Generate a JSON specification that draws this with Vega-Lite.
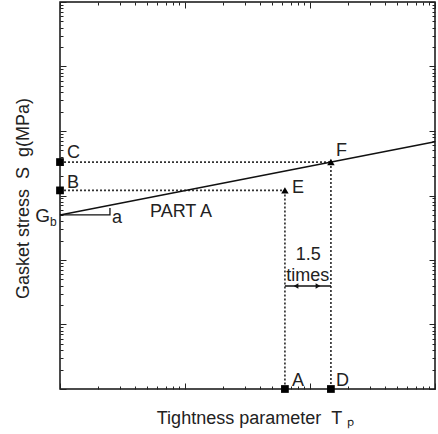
{
  "$schema": "https://vega.github.io/schema/vega-lite/v6.json",
  "width": 375,
  "height": 387,
  "autosize": {"type": "none"},
  "padding": {"left": 60, "top": 2, "right": 3, "bottom": 45},
  "background": "white",
  "datasets": {
    "guides": [
      {"seg": "B-E", "tp": 1, "sg": 1200},
      {"seg": "B-E", "tp": 63, "sg": 1200},
      {"seg": "E-A", "tp": 63, "sg": 1200},
      {"seg": "E-A", "tp": 63, "sg": 1},
      {"seg": "C-F", "tp": 1, "sg": 3300},
      {"seg": "C-F", "tp": 147, "sg": 3300},
      {"seg": "F-D", "tp": 147, "sg": 3300},
      {"seg": "F-D", "tp": 147, "sg": 1}
    ],
    "partA": [
      {"tp": 1, "sg": 500},
      {"tp": 1000, "sg": 6800}
    ],
    "slope": [
      {"step": 1, "tp": 1, "sg": 500},
      {"step": 2, "tp": 2.51, "sg": 500},
      {"step": 3, "tp": 2.51, "sg": 640}
    ],
    "squares": [
      {"point": "C", "tp": 1, "sg": 3300},
      {"point": "B", "tp": 1, "sg": 1200},
      {"point": "A", "tp": 63, "sg": 1},
      {"point": "D", "tp": 147, "sg": 1}
    ],
    "triangles": [
      {"point": "E", "tp": 63, "sg": 1200},
      {"point": "F", "tp": 147, "sg": 3300}
    ],
    "span": [
      {"from": 63, "to": 147, "sg": 39.5}
    ],
    "heads": [
      {"side": "left", "tp": 77.3, "sg": 39.5},
      {"side": "right", "tp": 115.9, "sg": 39.5}
    ],
    "labels": [
      {"text": "C", "tp": 1.14, "sg": 3814},
      {"text": "B", "tp": 1.14, "sg": 1307},
      {"text": "a", "tp": 2.61, "sg": 375},
      {"text": "PART A", "tp": 5.25, "sg": 464},
      {"text": "E", "tp": 71.8, "sg": 1094},
      {"text": "F", "tp": 161.4, "sg": 4096},
      {"text": "A", "tp": 71.8, "sg": 1.11},
      {"text": "D", "tp": 161.4, "sg": 1.11}
    ],
    "ratio": [
      {"text": "1.5", "tp": 97, "sg": 100},
      {"text": "times", "tp": 96, "sg": 47.2}
    ]
  },
  "layer": [
    {
      "data": {"name": "guides"},
      "mark": {"type": "line", "color": "#333", "strokeWidth": 1.7, "strokeDash": [2, 2]},
      "encoding": {
        "x": {
          "field": "tp", "type": "quantitative",
          "scale": {"type": "log", "domain": [1, 1000], "nice": false},
          "axis": {
            "orient": "bottom",
            "values": [1,2,3,4,5,6,7,8,9,10,20,30,40,50,60,70,80,90,100,200,300,400,500,600,700,800,900,1000],
            "tickSize": {"condition": {"test": "abs(log(datum.value)/LN10 - round(log(datum.value)/LN10)) < 0.001", "value": -6}, "value": -3},
            "title": "Tightness parameter\u00a0\u00a0T\u00a0ₚ",
            "titleFont": "Liberation Sans",
            "titleFontSize": 18,
            "titleFontWeight": "normal",
            "titleColor": "#222",
            "titleBaseline": "alphabetic",
            "titleX": 195,
            "titleY": 34
          }
        },
        "y": {
          "field": "sg", "type": "quantitative",
          "scale": {"type": "log", "domain": [1, 1000000], "nice": false},
          "axis": {
            "orient": "left",
            "values": [1,2,3,4,5,6,7,8,9,10,20,30,40,50,60,70,80,90,100,200,300,400,500,600,700,800,900,1000,2000,3000,4000,5000,6000,7000,8000,9000,10000,20000,30000,40000,50000,60000,70000,80000,90000,100000,200000,300000,400000,500000,600000,700000,800000,900000,1000000],
            "tickSize": {"condition": {"test": "abs(log(datum.value)/LN10 - round(log(datum.value)/LN10)) < 0.001", "value": -6}, "value": -3},
            "title": "Gasket stress\u00a0\u00a0S\u00a0\u00a0g(MPa)",
            "titleFont": "Liberation Sans",
            "titleFontSize": 18,
            "titleFontWeight": "normal",
            "titleColor": "#222",
            "titleBaseline": "alphabetic",
            "titleX": -32,
            "titleY": 196
          }
        },
        "detail": {"field": "seg", "type": "nominal"}
      }
    },
    {
      "data": {"name": "partA"},
      "mark": {"type": "line", "color": "#111", "strokeWidth": 1.5},
      "encoding": {
        "x": {
          "field": "tp", "type": "quantitative",
          "axis": {
            "orient": "top",
            "values": [1,2,3,4,5,6,7,8,9,10,20,30,40,50,60,70,80,90,100,200,300,400,500,600,700,800,900,1000],
            "tickSize": {"condition": {"test": "abs(log(datum.value)/LN10 - round(log(datum.value)/LN10)) < 0.001", "value": -6}, "value": -3},
            "title": null
          }
        },
        "y": {
          "field": "sg", "type": "quantitative",
          "axis": {
            "orient": "right",
            "values": [1,2,3,4,5,6,7,8,9,10,20,30,40,50,60,70,80,90,100,200,300,400,500,600,700,800,900,1000,2000,3000,4000,5000,6000,7000,8000,9000,10000,20000,30000,40000,50000,60000,70000,80000,90000,100000,200000,300000,400000,500000,600000,700000,800000,900000,1000000],
            "tickSize": {"condition": {"test": "abs(log(datum.value)/LN10 - round(log(datum.value)/LN10)) < 0.001", "value": -6}, "value": -3},
            "title": null
          }
        }
      }
    },
    {
      "data": {"name": "slope"},
      "mark": {"type": "line", "color": "#111", "strokeWidth": 1.3},
      "encoding": {
        "x": {"field": "tp", "type": "quantitative", "axis": null},
        "y": {"field": "sg", "type": "quantitative", "axis": null},
        "order": {"field": "step", "type": "quantitative"}
      }
    },
    {
      "data": {"name": "span"},
      "mark": {"type": "rule", "color": "#111", "strokeWidth": 1.5},
      "encoding": {
        "x": {"field": "from", "type": "quantitative", "axis": null},
        "x2": {"field": "to"},
        "y": {"field": "sg", "type": "quantitative", "axis": null}
      }
    },
    {
      "data": {"name": "heads"},
      "mark": {"type": "point", "filled": true, "color": "#111", "size": 30, "opacity": 1},
      "encoding": {
        "x": {"field": "tp", "type": "quantitative", "axis": null},
        "y": {"field": "sg", "type": "quantitative", "axis": null},
        "shape": {"field": "side", "type": "nominal", "scale": {"domain": ["left", "right"], "range": ["triangle-left", "triangle-right"]}, "legend": null}
      }
    },
    {
      "data": {"name": "squares"},
      "mark": {"type": "square", "color": "black", "size": 60, "opacity": 1},
      "encoding": {
        "x": {"field": "tp", "type": "quantitative", "axis": null},
        "y": {"field": "sg", "type": "quantitative", "axis": null}
      }
    },
    {
      "data": {"name": "triangles"},
      "mark": {"type": "point", "shape": "triangle-up", "filled": true, "color": "black", "size": 55, "opacity": 1},
      "encoding": {
        "x": {"field": "tp", "type": "quantitative", "axis": null},
        "y": {"field": "sg", "type": "quantitative", "axis": null}
      }
    },
    {
      "data": {"name": "labels"},
      "mark": {"type": "text", "align": "left", "baseline": "alphabetic", "font": "Liberation Sans", "fontSize": 18, "color": "#222"},
      "encoding": {
        "x": {"field": "tp", "type": "quantitative", "axis": null},
        "y": {"field": "sg", "type": "quantitative", "axis": null},
        "text": {"field": "text"}
      }
    },
    {
      "data": {"values": [{"text": "G", "tp": 0.832, "sg": 388}]},
      "mark": {"type": "text", "align": "right", "baseline": "alphabetic", "font": "Liberation Sans", "fontSize": 19, "color": "#222"},
      "encoding": {
        "x": {"field": "tp", "type": "quantitative", "axis": null},
        "y": {"field": "sg", "type": "quantitative", "axis": null},
        "text": {"field": "text"}
      }
    },
    {
      "data": {"values": [{"text": "b", "tp": 0.832, "sg": 337}]},
      "mark": {"type": "text", "align": "left", "baseline": "alphabetic", "font": "Liberation Sans", "fontSize": 12, "color": "#222"},
      "encoding": {
        "x": {"field": "tp", "type": "quantitative", "axis": null},
        "y": {"field": "sg", "type": "quantitative", "axis": null},
        "text": {"field": "text"}
      }
    },
    {
      "data": {"name": "ratio"},
      "mark": {"type": "text", "align": "center", "baseline": "alphabetic", "font": "Liberation Sans", "fontSize": 18, "color": "#222"},
      "encoding": {
        "x": {"field": "tp", "type": "quantitative", "axis": null},
        "y": {"field": "sg", "type": "quantitative", "axis": null},
        "text": {"field": "text"}
      }
    }
  ],
  "resolve": {"axis": {"x": "independent", "y": "independent"}},
  "config": {
    "view": {"stroke": "#111", "strokeWidth": 1.5},
    "axis": {"grid": false, "labels": false, "domain": false, "tickColor": "#222", "tickWidth": 1}
  }
}
